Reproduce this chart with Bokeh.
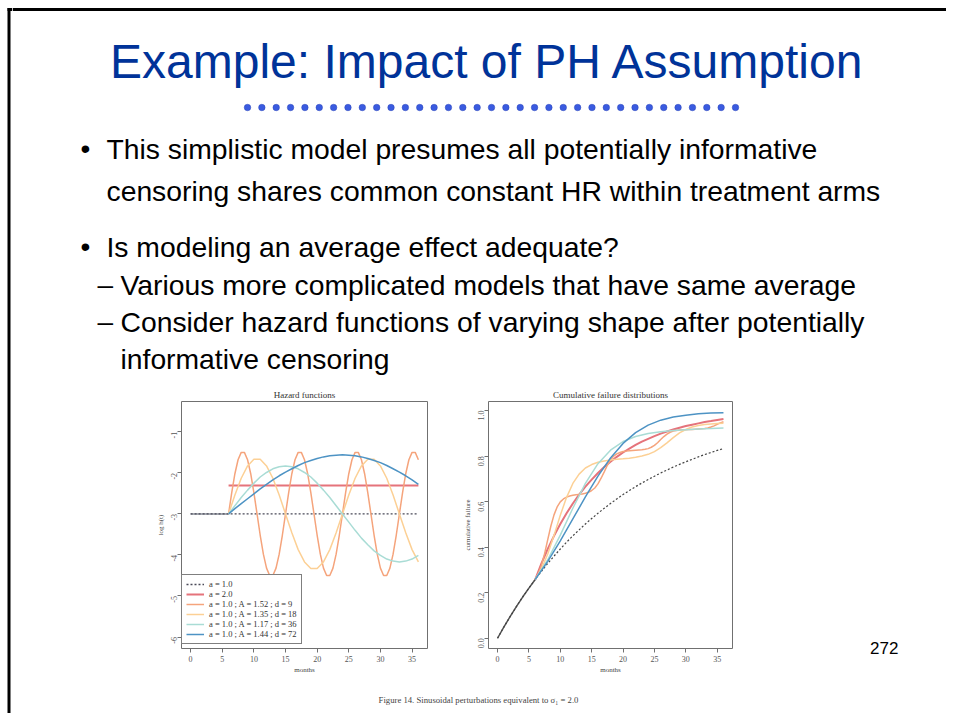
import math
import numpy as np
from bokeh.plotting import figure
from bokeh.models import Range1d, Span, Label, Legend, LegendItem, FixedTicker, Div, Spacer
from bokeh.layouts import column, row
from bokeh.embed import file_html
from bokeh.resources import INLINE

# ---------------- texts ----------------
title_text = "Example: Impact of PH Assumption"
bullet1 = ["This simplistic model presumes all potentially informative",
           "censoring shares common constant HR within treatment arms"]
bullet2 = "Is modeling an average effect adequate?"
sub1 = "Various more complicated models that have same average"
sub2 = ["Consider hazard functions of varying shape after potentially",
        "informative censoring"]
page_number = "272"
caption = "Figure 14. Sinusoidal perturbations equivalent to \u03c3\u2081 = 2.0"
haz_title = "Hazard functions"
cum_title = "Cumulative failure distributions"

legend_labels = ["a = 1.0", "a = 2.0",
                 "a = 1.0 ; A = 1.52 ; d = 9",
                 "a = 1.0 ; A = 1.35 ; d = 18",
                 "a = 1.0 ; A = 1.17 ; d = 36",
                 "a = 1.0 ; A = 1.44 ; d = 72"]

# ---------------- ticks ----------------
month_ticks = [0, 5, 10, 15, 20, 25, 30, 35]
month_tick_labels = ["0", "5", "10", "15", "20", "25", "30", "35"]
haz_ticks = [-6, -5, -4, -3, -2, -1]
haz_tick_labels = ["-6", "-5", "-4", "-3", "-2", "-1"]
cum_ticks = [0.0, 0.2, 0.4, 0.6, 0.8, 1.0]
cum_tick_labels = ["0.0", "0.2", "0.4", "0.6", "0.8", "1.0"]

# ---------------- hazard data (log h(t)) ----------------
haz_common_t = [0, 6]
haz_common = [-3.0, -3.0]
haz_a1_t = [0, 36]
haz_a1 = [-3.0, -3.0]
haz_a2_t = [6, 36]
haz_a2 = [-2.31, -2.31]

t_half = [6 + 0.5 * k for k in range(61)]
t_one = list(range(6, 37))
t_two = list(range(6, 37, 2))

haz_d9 = [-3.00, -2.48, -2.02, -1.68, -1.50, -1.50, -1.68, -2.02, -2.48,
          -3.00, -3.52, -3.98, -4.32, -4.50, -4.50, -4.32, -3.98, -3.52,
          -3.00, -2.48, -2.02, -1.68, -1.50, -1.50, -1.68, -2.02, -2.48,
          -3.00, -3.52, -3.98, -4.32, -4.50, -4.50, -4.32, -3.98, -3.52,
          -3.00, -2.48, -2.02, -1.68, -1.50, -1.50, -1.68, -2.02, -2.48,
          -3.00, -3.52, -3.98, -4.32, -4.50, -4.50, -4.32, -3.98, -3.52,
          -3.00, -2.48, -2.02, -1.68, -1.50, -1.50, -1.68]
haz_d18 = [-3.00, -2.54, -2.13, -1.83, -1.67, -1.67, -1.83, -2.13, -2.54,
           -3.00, -3.46, -3.87, -4.17, -4.33, -4.33, -4.17, -3.87, -3.46,
           -3.00, -2.54, -2.13, -1.83, -1.67, -1.67, -1.83, -2.13, -2.54,
           -3.00, -3.46, -3.87, -4.17]
haz_d36 = [-3.00, -2.80, -2.60, -2.42, -2.25, -2.10, -1.99, -1.90, -1.85,
           -1.83, -1.85, -1.90, -1.99, -2.10, -2.25, -2.42, -2.60, -2.80,
           -3.00, -3.20, -3.40, -3.59, -3.75, -3.90, -4.01, -4.10, -4.15,
           -4.17, -4.15, -4.10, -4.01]
haz_d72 = [-3.00, -2.87, -2.75, -2.63, -2.51, -2.39, -2.28, -2.17, -2.07,
           -1.98, -1.90, -1.82, -1.75, -1.70, -1.65, -1.61, -1.58, -1.57,
           -1.56, -1.57, -1.58, -1.61, -1.65, -1.70, -1.75, -1.82, -1.90,
           -1.98, -2.07, -2.17, -2.28]

# ---------------- cumulative failure data ----------------
cum_t = list(range(0, 37))
cum_a1 = [0.000, 0.049, 0.095, 0.139, 0.181, 0.220, 0.258, 0.294, 0.329,
          0.361, 0.392, 0.422, 0.450, 0.476, 0.502, 0.526, 0.549, 0.571,
          0.592, 0.612, 0.631, 0.649, 0.666, 0.682, 0.697, 0.712, 0.726,
          0.739, 0.752, 0.764, 0.775, 0.786, 0.797, 0.807, 0.816, 0.825,
          0.833]
cum_a2 = [0.258, 0.329, 0.392, 0.450, 0.502, 0.549, 0.592, 0.631, 0.666,
          0.697, 0.726, 0.752, 0.775, 0.797, 0.816, 0.833, 0.849, 0.864,
          0.876, 0.888, 0.899, 0.908, 0.917, 0.925, 0.932, 0.938, 0.944,
          0.950, 0.954, 0.959, 0.963]
cum_d9 = [0.258, 0.283, 0.320, 0.372, 0.433, 0.493, 0.542, 0.577, 0.599,
          0.612, 0.620, 0.625, 0.628, 0.630, 0.632, 0.634, 0.637, 0.641,
          0.649, 0.660, 0.678, 0.703, 0.731, 0.760, 0.783, 0.800, 0.810,
          0.816, 0.820, 0.822, 0.824, 0.825, 0.826, 0.827, 0.828, 0.830,
          0.833, 0.839, 0.847, 0.859, 0.873, 0.886, 0.897, 0.905, 0.910,
          0.913, 0.915, 0.916, 0.916, 0.917, 0.917, 0.918, 0.919, 0.920,
          0.921, 0.924, 0.928, 0.933, 0.940, 0.946, 0.951]
cum_d18 = [0.258, 0.305, 0.370, 0.452, 0.540, 0.619, 0.680, 0.721, 0.748,
           0.763, 0.773, 0.779, 0.783, 0.786, 0.788, 0.791, 0.795, 0.801,
           0.808, 0.820, 0.837, 0.858, 0.881, 0.902, 0.917, 0.928, 0.935,
           0.939, 0.941, 0.943, 0.944]
cum_d36 = [0.258, 0.345, 0.453, 0.571, 0.680, 0.767, 0.826, 0.864, 0.886,
           0.899, 0.907, 0.913, 0.916, 0.919, 0.921, 0.924]
cum_d72 = [0.258, 0.338, 0.428, 0.524, 0.621, 0.712, 0.792, 0.856, 0.903,
           0.936, 0.958, 0.972, 0.980, 0.986, 0.989, 0.991]

# ---------------- styles ----------------
SANS = "Liberation Sans"
SERIF = "Liberation Serif"
col_a1 = "#4a4a58"
col_a2 = "#e5737b"
col_d9 = "#f5a47c"
col_d18 = "#fcd095"
col_d36 = "#a9dcd5"
col_d72 = "#4d93c4"
col_common = "#8a8f99"

W = 946
H = 713
STRIP_W = 12
HEAD_H = 383
ROW_H = 293
FOOT_H = H - HEAD_H - ROW_H
ROW_TOP = HEAD_H
P_TOP, P_BOT = 18, 26
LPAD_W, P1_W, P2_W = 128, 300, 305
RPAD_W = W - STRIP_W - LPAD_W - P1_W - P2_W


def deco_fig(x0, x1, y0, y1):
    f = figure(width=x1 - x0, height=y1 - y0,
               x_range=Range1d(x0, x1), y_range=Range1d(y1, y0),
               output_backend="svg", toolbar_location=None, min_border=0,
               x_axis_location=None, y_axis_location=None)
    f.grid.visible = False
    f.outline_line_color = None
    return f


# ---------------- slide frame strip (left edge, full height) ----------------
strip = deco_fig(0, STRIP_W, 0, H)
strip.segment(x0=[8.5, 7.0], y0=[7.5, 9.0], x1=[8.5, STRIP_W], y1=[H, 9.0],
              line_color="black", line_width=3, line_cap="butt")

# ---------------- header (page coordinates) ----------------
head = deco_fig(STRIP_W, W, 0, HEAD_H)
head.add_layout(Span(location=9, dimension="width", line_color="black", line_width=3))
head.add_layout(Label(x=487, y=61, text=title_text, text_font=SANS, text_font_size="48px",
                      text_color="#003399", text_align="center", text_baseline="middle"))
dot_x = np.linspace(247, 735, 35)
head.scatter(dot_x, [107] * len(dot_x), size=6.5, color="#3a5be0", line_color="#2a44b8", line_width=0.5)

lines = [
    ("\u2022", 80, 106, bullet1[0], 148),
    (None, 0, 106, bullet1[1], 190),
    ("\u2022", 80, 106, bullet2, 246),
    ("\u2013", 97, 120, sub1, 284),
    ("\u2013", 97, 120, sub2[0], 321),
    (None, 0, 120, sub2[1], 358),
]
for mark, mx, tx, txt, y in lines:
    if mark:
        head.add_layout(Label(x=mx, y=y, text=mark, text_font=SANS, text_font_size="28px",
                              text_color="black", text_baseline="middle"))
    head.add_layout(Label(x=tx, y=y, text=txt, text_font=SANS, text_font_size="28.3px",
                          text_color="black", text_baseline="middle"))


# ---------------- plots ----------------
def style_plot(p, yticks, ylabels, ylab):
    p.grid.visible = False
    p.outline_line_color = "#707070"
    p.outline_line_width = 1
    p.title.align = "center"
    p.title.text_font = SERIF
    p.title.text_font_size = "9px"
    p.title.text_font_style = "normal"
    p.title.text_color = "#333333"
    p.title.standoff = 3
    p.xaxis.ticker = FixedTicker(ticks=month_ticks)
    p.xaxis.major_label_overrides = dict(zip(month_ticks, month_tick_labels))
    p.yaxis.ticker = FixedTicker(ticks=yticks)
    p.yaxis.major_label_overrides = dict(zip(yticks, ylabels))
    p.yaxis.major_label_orientation = math.pi / 2
    p.xaxis.axis_label = "months"
    p.yaxis.axis_label = ylab
    for ax in (p.xaxis[0], p.yaxis[0]):
        ax.axis_line_color = None
        ax.major_tick_line_color = "#707070"
        ax.major_tick_out = 4
        ax.major_tick_in = 0
        ax.minor_tick_line_color = None
        ax.major_label_text_font = SERIF
        ax.major_label_text_font_size = "8px"
        ax.major_label_text_color = "#555555"
        ax.major_label_standoff = 3
        ax.axis_label_text_font = SERIF
        ax.axis_label_text_font_size = "7px"
        ax.axis_label_text_font_style = "normal"
        ax.axis_label_text_color = "#444444"
        ax.axis_label_standoff = 1


p1 = figure(width=P1_W, height=ROW_H, x_range=Range1d(-1.44, 37.44), y_range=Range1d(-6.28, -0.26),
            output_backend="svg", toolbar_location=None, title=haz_title,
            min_border_left=41, min_border_right=13, min_border_top=P_TOP, min_border_bottom=P_BOT)
style_plot(p1, haz_ticks, haz_tick_labels, "log h(t)")

p1.line(haz_common_t, haz_common, line_color=col_common, line_width=1.5)
r_a1 = p1.line(haz_a1_t, haz_a1, line_color=col_a1, line_width=1.3, line_dash="2 2")
r_a2 = p1.line(haz_a2_t, haz_a2, line_color=col_a2, line_width=2)
r_d9 = p1.line(t_half, haz_d9, line_color=col_d9, line_width=1.5)
r_d18 = p1.line(t_one, haz_d18, line_color=col_d18, line_width=1.5)
r_d36 = p1.line(t_one, haz_d36, line_color=col_d36, line_width=1.5)
r_d72 = p1.line(t_one, haz_d72, line_color=col_d72, line_width=1.5)

legend = Legend(items=[LegendItem(label=l, renderers=[r]) for l, r in
                       zip(legend_labels, [r_a1, r_a2, r_d9, r_d18, r_d36, r_d72])],
                location=(0, 4), margin=0, padding=4, spacing=0,
                border_line_color="black", border_line_width=1,
                label_text_font=SERIF, label_text_font_size="8.5px", label_text_color="#333333",
                label_height=10, glyph_height=10, glyph_width=18, label_standoff=5,
                background_fill_color="white", background_fill_alpha=1)
p1.add_layout(legend)

p2 = figure(width=P2_W, height=ROW_H, x_range=Range1d(-1.44, 37.44), y_range=Range1d(-0.045, 1.04),
            output_backend="svg", toolbar_location=None, title=cum_title,
            min_border_left=48, min_border_right=13, min_border_top=P_TOP, min_border_bottom=P_BOT)
style_plot(p2, cum_ticks, cum_tick_labels, "cumulative failure")

p2.line(cum_t[:7], cum_a1[:7], line_color="#555555", line_width=1.5)
p2.line(cum_t, cum_a1, line_color="#444444", line_width=1.2, line_dash="2 2")
p2.line(t_one, cum_a2, line_color=col_a2, line_width=2)
p2.line(t_half, cum_d9, line_color=col_d9, line_width=1.5)
p2.line(t_one, cum_d18, line_color=col_d18, line_width=1.5)
p2.line(t_two, cum_d36, line_color=col_d36, line_width=1.5)
p2.line(t_two, cum_d72, line_color=col_d72, line_width=1.5)

# ---------------- side pads / footer ----------------
lpad = Spacer(width=LPAD_W, height=ROW_H)
rpad = Div(text=('<div style="padding-left:125px;padding-top:256px;line-height:20px;'
                 'font-family:\'Liberation Sans\';font-size:17px;color:black">%s</div>') % page_number,
           width=RPAD_W, height=ROW_H, margin=0)

foot = deco_fig(STRIP_W, W, ROW_TOP + ROW_H, H)
foot.add_layout(Label(x=478, y=699, text=caption, text_font=SERIF, text_font_size="8.7px",
                      text_color="#444444", text_align="center", text_baseline="middle"))

layout = row(strip, column(head, row(lpad, p1, p2, rpad), foot))

with open("out.html", "w") as fh:
    fh.write(file_html(layout, INLINE))
